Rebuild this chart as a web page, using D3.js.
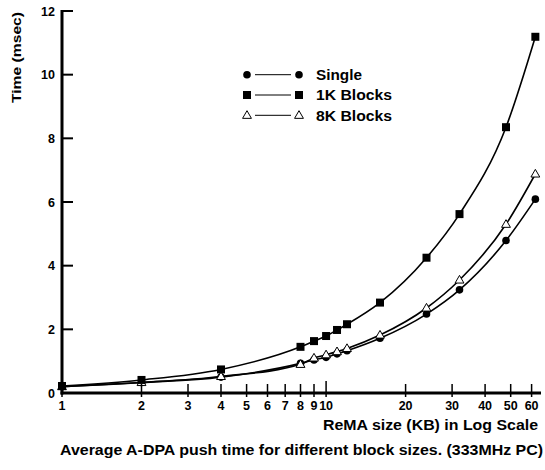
<!DOCTYPE html>
<html><head><meta charset="utf-8">
<script src="https://cdn.jsdelivr.net/npm/d3@7"></script>
<style>body{margin:0;background:#fff}text{font-family:"Liberation Sans",Arial,sans-serif;font-weight:bold;fill:#000}</style>
</head><body><svg id="c" width="545" height="470"></svg>
<script>
const sizes = [1, 2, 4, 8, 9, 10, 11, 12, 16, 24, 32, 48, 62];
const single = [0.20, 0.33, 0.50, 0.93, 1.04, 1.12, 1.23, 1.33, 1.72, 2.48, 3.24, 4.79, 6.09];
const blocks1K = [0.22, 0.41, 0.74, 1.45, 1.63, 1.79, 1.98, 2.16, 2.84, 4.25, 5.62, 8.35, 11.19];
const blocks8K = [0.20, 0.33, 0.52, 0.90, 1.10, 1.20, 1.30, 1.40, 1.82, 2.67, 3.55, 5.30, 6.88];
const xTicks = [1, 2, 3, 4, 5, 6, 7, 8, 9, 10, 20, 30, 40, 50, 60];
const yTicks = [0, 2, 4, 6, 8, 10, 12];
const seriesNames = ["Single", "1K Blocks", "8K Blocks"];

const svg = d3.select("#c");
const x = d3.scaleLog().domain([1, 64]).range([62, 539]);
const y = d3.scaleLinear().domain([0, 12]).range([393, 11]);

const line = d3.line().x(d => x(d[0])).y(d => y(d[1])).curve(d3.curveMonotoneX);
const series = [single, blocks1K, blocks8K];
series.forEach(vals => {
  svg.append("path").datum(sizes.map((s, i) => [s, vals[i]]))
    .attr("d", line).attr("fill", "none").attr("stroke", "#000").attr("stroke-width", 1.6);
});

function marker(g, type, cx, cy) {
  if (type === 0) g.append("circle").attr("cx", cx).attr("cy", cy).attr("r", 3.8).attr("fill", "#000");
  else if (type === 1) g.append("rect").attr("x", cx - 4).attr("y", cy - 4).attr("width", 8).attr("height", 8).attr("fill", "#000");
  else g.append("path").attr("d", d3.symbol(d3.symbolTriangle, 34)()).attr("transform", `translate(${cx},${cy + 0.5})`)
    .attr("fill", "#fff").attr("stroke", "#000").attr("stroke-width", 1);
}
const mg = svg.append("g");
[0, 2, 1].forEach(t => {
  series[t].forEach((v, i) => marker(mg, t, x(sizes[i]), y(v)));
});

const ax = svg.append("g");
ax.append("line").attr("x1", 62).attr("x2", 62).attr("y1", 10).attr("y2", 394.5).attr("stroke", "#000").attr("stroke-width", 3);
ax.append("line").attr("x1", 60.5).attr("x2", 541).attr("y1", 393).attr("y2", 393).attr("stroke", "#000").attr("stroke-width", 3);
yTicks.forEach(t => {
  if (t > 0) ax.append("line").attr("x1", 62).attr("x2", 73).attr("y1", y(t)).attr("y2", y(t)).attr("stroke", "#000").attr("stroke-width", 2);
  ax.append("text").attr("x", 55).attr("y", y(t) + 4.5).attr("text-anchor", "end").attr("font-size", 12.5).text(t);
});
xTicks.forEach(t => {
  ax.append("line").attr("x1", x(t)).attr("x2", x(t)).attr("y1", t === 10 ? 381 : 384).attr("y2", 397).attr("stroke", "#000").attr("stroke-width", 1.5);
  ax.append("text").attr("x", x(t)).attr("y", 409.5).attr("text-anchor", "middle").attr("font-size", 12.5).text(t);
});
function fitText(sel, len) { sel.attr("textLength", len).attr("lengthAdjust", "spacingAndGlyphs"); return sel; }
fitText(ax.append("text").attr("transform", "translate(21,57.5) rotate(-90)").attr("text-anchor", "middle").attr("font-size", 13.5).text("Time (msec)"), 91);
fitText(ax.append("text").attr("x", 323).attr("y", 429.5).attr("font-size", 14).text("ReMA size (KB) in Log Scale"), 215);
fitText(ax.append("text").attr("x", 60).attr("y", 454.5).attr("font-size", 14).text("Average A-DPA push time for different block sizes. (333MHz PC)"), 483);

const lg = svg.append("g");
const legendLen = [46, 76, 76];
seriesNames.forEach((n, i) => {
  const ly = 74.7 + i * 20.3;
  marker(lg, i, 247, ly);
  lg.append("line").attr("x1", 255).attr("x2", 291).attr("y1", ly).attr("y2", ly).attr("stroke", "#000").attr("stroke-width", 1);
  marker(lg, i, 299, ly);
  fitText(lg.append("text").attr("x", 316).attr("y", ly + 5.2).attr("font-size", 14.5).text(n), legendLen[i]);
});
</script></body></html>
